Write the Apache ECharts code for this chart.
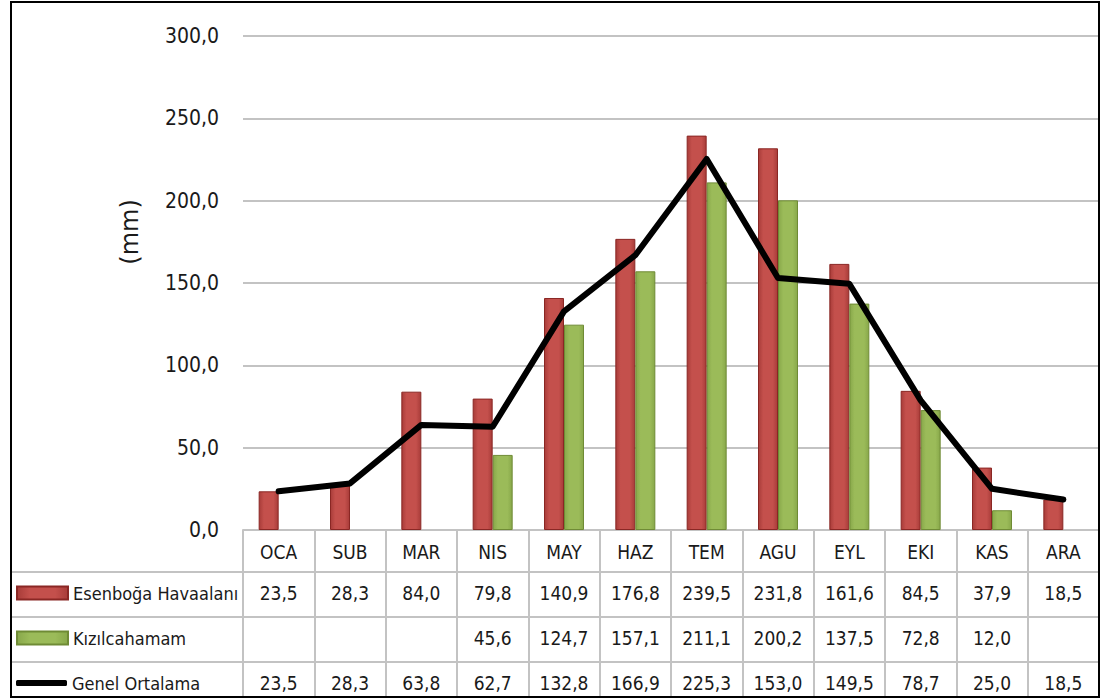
<!DOCTYPE html>
<html>
<head>
<meta charset="utf-8">
<title>Aylık yağış</title>
<script src="https://cdn.jsdelivr.net/npm/echarts@6/dist/echarts.min.js"></script>
<style>
  html, body { margin: 0; padding: 0; background: #fff; }
  #chart { width: 1105px; height: 700px; }
</style>
</head>
<body>
<div id="chart"></div>
<script>
// aylar
const months = ['OCA', 'SUB', 'MAR', 'NIS', 'MAY', 'HAZ', 'TEM', 'AGU', 'EYL', 'EKI', 'KAS', 'ARA'];
const esenboga = [23.5, 28.3, 84.0, 79.8, 140.9, 176.8, 239.5, 231.8, 161.6, 84.5, 37.9, 18.5];
const kizilcahamam = [null, null, null, 45.6, 124.7, 157.1, 211.1, 200.2, 137.5, 72.8, 12.0, null];
const genelOrtalama = [23.5, 28.3, 63.8, 62.7, 132.8, 166.9, 225.3, 153.0, 149.5, 78.7, 25.0, 18.5];
const yTicks = [0, 50, 100, 150, 200, 250, 300];

const seriesNames = ['Esenboğa Havaalanı', 'Kızılcahamam', 'Genel Ortalama'];

const FONT = "'DejaVu Sans Condensed', 'Liberation Sans Narrow', 'DejaVu Sans', sans-serif";
const GREY = '#c3c3c3';

// tablo yerleşimi
const gridLeft = 243, gridRight = 1099, gridTop = 36, axisY = 530;
const rowLines = [572, 617, 662];
const frame = { x: 11, y: 2, w: 1088, h: 695 };

function fmt(v) {
    if (v === null || v === undefined) return '';
    return v.toFixed(1).replace('.', ',');
}

function tableAxis(values, offset) {
    return {
        type: 'category',
        data: months,
        position: 'bottom',
        offset: offset,
        axisLine: { show: false },
        axisTick: { show: false },
        axisLabel: {
            interval: 0,
            margin: 11,
            fontFamily: FONT,
            fontSize: 19,
            color: '#1a1a1a',
            formatter: function (val, idx) { return fmt(values[idx]); }
        }
    };
}

const myChart = echarts.init(document.getElementById('chart'), null, { renderer: 'svg' });

const legendBase = {
    left: frame.x,
    itemWidth: 51,
    itemHeight: 13,
    icon: 'rect',
    textStyle: { fontFamily: FONT, fontSize: 18, color: '#1a1a1a' },
    selectedMode: false
};

const option = {
    backgroundColor: '#fff',
    animation: false,
    grid: {
        left: gridLeft,
        right: 1105 - gridRight,
        top: gridTop,
        bottom: 700 - axisY,
        containLabel: false
    },
    legend: [
        Object.assign({}, legendBase, { top: rowLines[0] + 7, data: [seriesNames[0]] }),
        Object.assign({}, legendBase, { top: rowLines[1] + 7, data: [seriesNames[1]] }),
        Object.assign({}, legendBase, {
            top: rowLines[2] + 7,
            icon: 'roundRect',
            itemHeight: 6,
            data: [seriesNames[2]]
        })
    ],
    xAxis: [
        {
            type: 'category',
            data: months,
            boundaryGap: true,
            axisLine: { lineStyle: { color: GREY, width: 2 } },
            axisTick: { show: true, length: frame.y + frame.h - axisY, lineStyle: { color: GREY, width: 2 } },
            axisLabel: {
                interval: 0,
                margin: 12,
                fontFamily: FONT,
                fontSize: 19,
                color: '#1a1a1a'
            }
        },
        tableAxis(esenboga, rowLines[0] - axisY),
        tableAxis(kizilcahamam, rowLines[1] - axisY),
        tableAxis(genelOrtalama, rowLines[2] - axisY)
    ],
    yAxis: {
        type: 'value',
        min: yTicks[0],
        max: yTicks[yTicks.length - 1],
        interval: 50,
        axisLine: { show: false },
        axisTick: { show: false },
        axisLabel: {
            margin: 24,
            fontFamily: FONT,
            fontSize: 21,
            color: '#1a1a1a',
            formatter: function (v) { return fmt(v); }
        },
        splitLine: { lineStyle: { color: GREY, width: 2 } }
    },
    series: [
        {
            name: seriesNames[0],
            type: 'bar',
            data: esenboga,
            barWidth: 20,
            barGap: '0%',
            itemStyle: {
                color: new echarts.graphic.LinearGradient(0, 0, 1, 0, [
                    { offset: 0, color: '#a83c39' },
                    { offset: 0.25, color: '#c4504c' },
                    { offset: 0.75, color: '#c4504c' },
                    { offset: 1, color: '#a83c39' }
                ]),
                borderColor: '#8a2724',
                borderWidth: 1
            }
        },
        {
            name: seriesNames[1],
            type: 'bar',
            data: kizilcahamam,
            barWidth: 20,
            barGap: '0%',
            itemStyle: {
                color: new echarts.graphic.LinearGradient(0, 0, 1, 0, [
                    { offset: 0, color: '#88a84a' },
                    { offset: 0.25, color: '#9bbb59' },
                    { offset: 0.75, color: '#9bbb59' },
                    { offset: 1, color: '#88a84a' }
                ]),
                borderColor: '#6f8b35',
                borderWidth: 1
            }
        },
        {
            name: seriesNames[2],
            type: 'line',
            data: genelOrtalama,
            symbol: 'none',
            z: 5,
            itemStyle: { color: '#000' },
            lineStyle: { color: '#000', width: 6, cap: 'round', join: 'round' }
        }
    ],
    graphic: [
        {
            type: 'rect',
            shape: { x: frame.x, y: frame.y, width: frame.w, height: frame.h },
            style: { fill: 'none', stroke: '#000', lineWidth: 2 },
            z: 10
        },
        ...rowLines.map(function (y) {
            return {
                type: 'line',
                shape: { x1: frame.x, y1: y, x2: frame.x + frame.w, y2: y },
                style: { stroke: GREY, lineWidth: 2 },
                z: 1
            };
        }),
        {
            type: 'text',
            x: 130,
            y: 232,
            rotation: Math.PI / 2,
            style: {
                text: '(mm)',
                fontFamily: "'DejaVu Sans', sans-serif",
                fontSize: 24,
                fill: '#1a1a1a',
                align: 'center',
                verticalAlign: 'middle'
            }
        }
    ]
};

myChart.setOption(option);
</script>
</body>
</html>
